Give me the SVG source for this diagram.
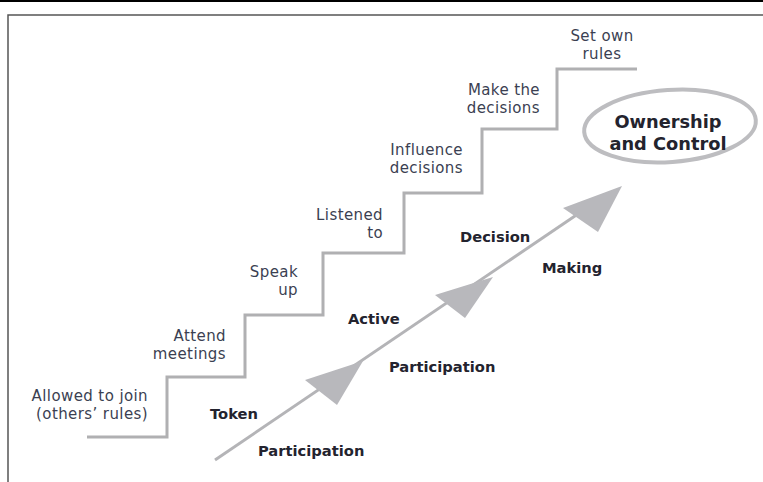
<svg xmlns="http://www.w3.org/2000/svg" width="763" height="482" viewBox="0 0 763 482">
  <style>
    .step { font-family: "DejaVu Sans", "Noto Sans", sans-serif; font-size: 15px; letter-spacing: 0.4px; fill: #3b3f52; text-anchor: end; }
    .mid { text-anchor: middle; }
    .stage { font-family: "DejaVu Sans", "Noto Sans", sans-serif; font-size: 14.7px; font-weight: bold; fill: #23232e; }
    .title { font-family: "DejaVu Sans", "Noto Sans", sans-serif; font-size: 17.8px; font-weight: bold; fill: #23232e; text-anchor: middle; }
    .stairs { fill: none; stroke: #b0b0b2; stroke-width: 3; stroke-linejoin: miter; }
    .shaft { stroke: #b4b4b7; stroke-width: 3; }
    .head { fill: #b8b8bc; }
  </style>

  <!-- page frame -->
  <rect x="0" y="0" width="763" height="482" fill="#ffffff"/>
  <rect x="0" y="0" width="763" height="2" fill="#000000"/>
  <path d="M8,482 V15 H763" fill="none" stroke="#555555" stroke-width="1.5"/>

  <!-- staircase -->
  <g id="stairs">
    <polyline class="stairs" points="87,437 167,437 167,377 245,377 245,315 323,315 323,253 404,253 404,193 482,193 482,129 557,129 557,69 637,69"/>
  </g>

  <!-- step labels -->
  <g id="step-allowed">
    <text class="step" x="148" y="401">Allowed to join</text>
    <text class="step" x="148" y="418.5">(others’ rules)</text>
  </g>
  <g id="step-attend">
    <text class="step" x="226" y="341">Attend</text>
    <text class="step" x="226" y="358.5">meetings</text>
  </g>
  <g id="step-speak">
    <text class="step" x="298" y="277">Speak</text>
    <text class="step" x="298" y="294.5">up</text>
  </g>
  <g id="step-listened">
    <text class="step" x="383" y="220">Listened</text>
    <text class="step" x="383" y="237.5">to</text>
  </g>
  <g id="step-influence">
    <text class="step" x="463" y="155">Influence</text>
    <text class="step" x="463" y="172.5">decisions</text>
  </g>
  <g id="step-make">
    <text class="step" x="540" y="95">Make the</text>
    <text class="step" x="540" y="112.5">decisions</text>
  </g>
  <g id="step-set">
    <text class="step mid" x="602" y="41">Set own</text>
    <text class="step mid" x="602" y="58.5">rules</text>
  </g>

  <!-- rising arrow with three heads -->
  <g id="connectors">
    <line class="shaft" x1="215" y1="460" x2="600" y2="199"/>
    <polygon class="head" points="363,361 305,380 337,405"/>
    <polygon class="head" points="493,277 435,295 465,318"/>
    <polygon class="head" points="622,186 563,208 598,232"/>
  </g>

  <!-- participation stages -->
  <g id="stage-token">
    <text class="stage" x="210" y="419">Token</text>
    <text class="stage" x="258" y="456">Participation</text>
  </g>
  <g id="stage-active">
    <text class="stage" x="348" y="324">Active</text>
    <text class="stage" x="389" y="372">Participation</text>
  </g>
  <g id="stage-decision">
    <text class="stage" x="460" y="242">Decision</text>
    <text class="stage" x="542" y="273">Making</text>
  </g>

  <!-- goal -->
  <g id="ownership">
    <ellipse cx="670" cy="126" rx="86" ry="36" transform="rotate(-4 670 126)" fill="none" stroke="#bdbdc0" stroke-width="4"/>
    <text class="title" x="668" y="128">Ownership</text>
    <text class="title" x="668" y="150">and Control</text>
  </g>
</svg>
